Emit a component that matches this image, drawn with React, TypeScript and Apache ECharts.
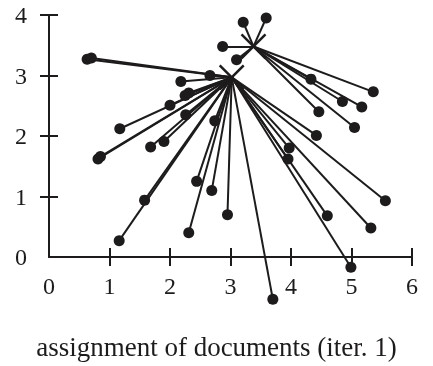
import React, { useEffect, useRef } from "react";
import * as echarts from "echarts";

const xTickValues = [0, 1, 2, 3, 4, 5, 6];
const yTickValues = [0, 1, 2, 3, 4];
const titleText = "assignment of documents (iter. 1)";

const centroidA = [3.02, 2.97];
const centroidB = [3.38, 3.48];

const clusterAX = [0.63, 0.7, 2.66, 2.18, 2.25, 2.31, 2.0, 1.17, 2.26, 1.68, 1.9, 0.81, 0.85, 2.74, 1.16, 1.58, 2.31, 2.44, 2.69, 2.95, 3.7, 4.99, 5.32, 4.6, 5.56, 3.95, 3.97, 4.42];
const clusterAY = [3.27, 3.29, 3.0, 2.9, 2.67, 2.71, 2.51, 2.12, 2.35, 1.82, 1.91, 1.62, 1.66, 2.25, 0.27, 0.94, 0.4, 1.25, 1.1, 0.7, -0.7, -0.17, 0.48, 0.68, 0.93, 1.62, 1.8, 2.01];

const clusterBX = [3.21, 3.59, 2.87, 3.1, 5.36, 4.33, 4.85, 5.17, 4.46, 5.05];
const clusterBY = [3.88, 3.95, 3.48, 3.26, 2.73, 2.94, 2.57, 2.48, 2.4, 2.14];

const INK = "#1e1b1c";
const FONT = "'Liberation Serif', 'DejaVu Serif', serif";

export default function App() {
  const ref = useRef<HTMLDivElement>(null);
  useEffect(() => {
    if (!ref.current) return;
    const chart = echarts.init(ref.current, null, { renderer: "svg" });

    const ptsA = clusterAX.map((x, i) => [x, clusterAY[i]]);
    const ptsB = clusterBX.map((x, i) => [x, clusterBY[i]]);
    const linesData = [
      ...ptsA.map((p) => ({ coords: [p, centroidA] })),
      ...ptsB.map((p) => ({ coords: [p, centroidB] })),
    ];

    const axisCommonX = {
      type: "value" as const,
      min: 0,
      max: 6,
      interval: 1,
      position: "bottom" as const,
      splitLine: { show: false },
    };
    const axisCommonY = {
      type: "value" as const,
      min: 0,
      max: 4,
      interval: 1,
      position: "left" as const,
      splitLine: { show: false },
    };

    const arm = 12;

    chart.setOption({
      animation: false,
      grid: { left: 49, right: 21, top: 15, bottom: 109, containLabel: false },
      title: {
        text: titleText,
        left: "center",
        top: 328,
        textStyle: { fontFamily: FONT, fontSize: 27, fontWeight: "normal", color: INK },
      },
      xAxis: [
        {
          ...axisCommonX,
          axisLine: { show: true, onZero: false, lineStyle: { color: INK, width: 2 } },
          axisTick: { show: true, inside: false, length: 9, customValues: [1, 2, 3, 4, 5, 6], lineStyle: { color: INK, width: 2 } },
          axisLabel: { show: true, margin: 17, customValues: xTickValues, fontFamily: FONT, fontSize: 24, color: INK },
        },
        {
          ...axisCommonX,
          axisLine: { show: false, onZero: false },
          axisTick: { show: true, inside: true, length: 9, customValues: [1, 2, 3, 4, 5, 6], lineStyle: { color: INK, width: 2 } },
          axisLabel: { show: false },
        },
      ],
      yAxis: [
        {
          ...axisCommonY,
          axisLine: { show: true, onZero: false, lineStyle: { color: INK, width: 2 } },
          axisTick: { show: true, inside: false, length: 9, customValues: [1, 2, 3, 4], lineStyle: { color: INK, width: 2 } },
          axisLabel: { show: true, margin: 22, customValues: yTickValues, fontFamily: FONT, fontSize: 24, color: INK },
        },
        {
          ...axisCommonY,
          axisLine: { show: false, onZero: false },
          axisTick: { show: true, inside: true, length: 9, customValues: [1, 2, 3, 4], lineStyle: { color: INK, width: 2 } },
          axisLabel: { show: false },
        },
      ],
      series: [
        {
          type: "lines",
          coordinateSystem: "cartesian2d",
          xAxisIndex: 0,
          yAxisIndex: 0,
          clip: false,
          lineStyle: { color: INK, width: 2, opacity: 1 },
          data: linesData,
          silent: true,
        },
        {
          type: "custom",
          coordinateSystem: "cartesian2d",
          xAxisIndex: 0,
          yAxisIndex: 0,
          clip: false,
          silent: true,
          data: [centroidA, centroidB],
          renderItem: (params: any, api: any) => {
            const c = api.coord([api.value(0), api.value(1)]);
            const style = { stroke: INK, lineWidth: 2.5, fill: null, opacity: 1 };
            return {
              type: "group",
              children: [
                { type: "line", shape: { x1: c[0] - arm, y1: c[1] - arm, x2: c[0] + arm, y2: c[1] + arm }, style },
                { type: "line", shape: { x1: c[0] + arm, y1: c[1] - arm, x2: c[0] - arm, y2: c[1] + arm }, style },
              ],
            };
          },
        },
        {
          type: "scatter",
          xAxisIndex: 0,
          yAxisIndex: 0,
          clip: false,
          symbol: "circle",
          symbolSize: 11,
          itemStyle: { color: INK, opacity: 1 },
          data: [...ptsA, ...ptsB],
        },
      ],
    });
    return () => chart.dispose();
  }, []);
  return <div ref={ref} style={{ position: "fixed", left: 0, top: 0, width: 433, height: 366 }} />;
}
